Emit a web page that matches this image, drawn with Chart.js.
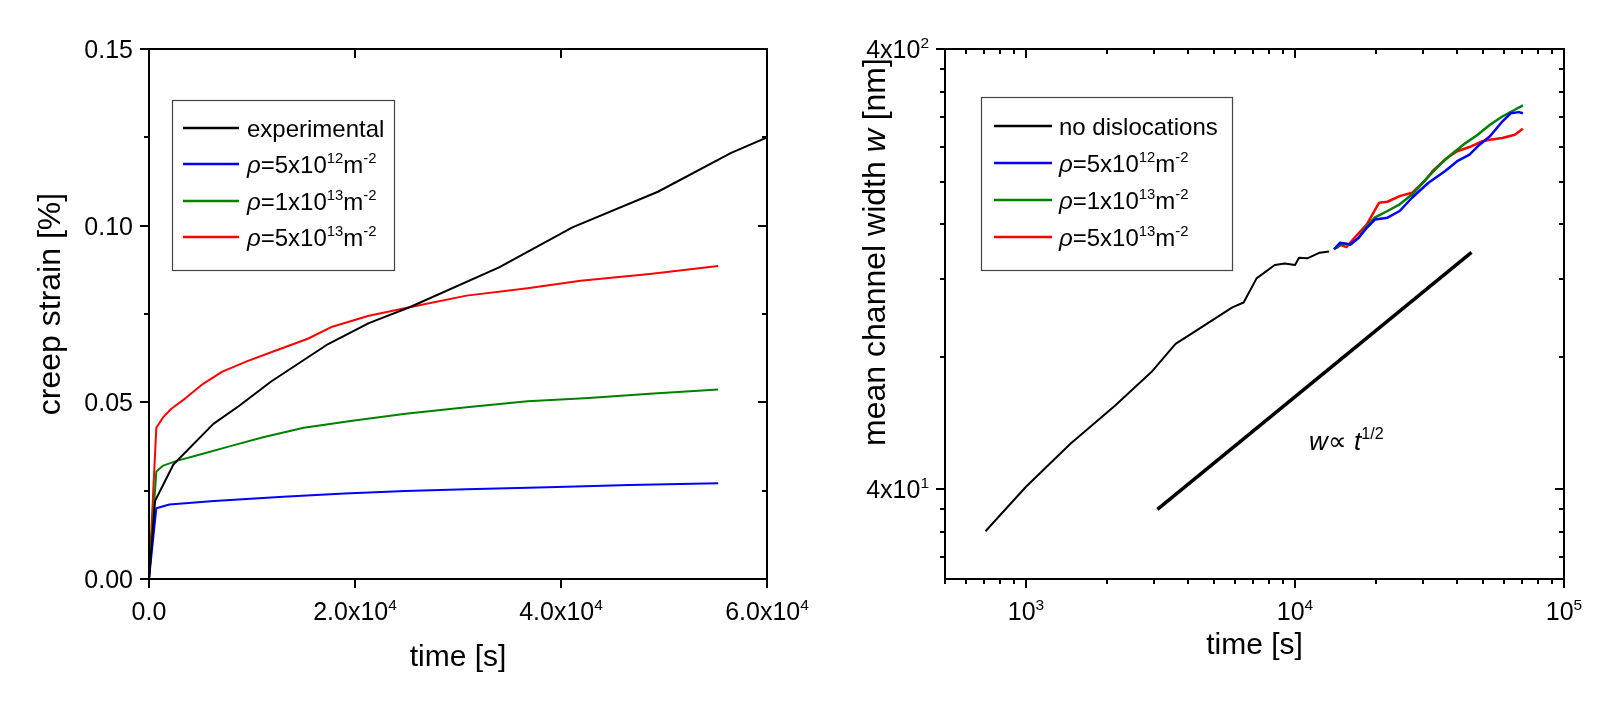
<!DOCTYPE html>
<html><head><meta charset="utf-8">
<script src="https://cdn.jsdelivr.net/npm/chart.js@4.4.1/dist/chart.umd.min.js"></script>
<style>
html,body{margin:0;padding:0;background:#fff;}
#wrap{position:relative;width:1619px;height:710px;overflow:hidden;background:#fff;}
canvas{position:absolute;top:0;}
#cL{left:0}
#cR{left:810px}
</style></head><body>
<div id="wrap"><canvas id="cL" width="810" height="710"></canvas><canvas id="cR" width="809" height="710"></canvas></div>
<script>
// ---- left panel: creep strain vs time ----
const expTime   = [0, 590, 2370, 6250, 8700, 11860, 17390, 21340, 25300, 33990, 41110, 49410, 56520, 60000];
const expStrain = [0, 0.0221, 0.0324, 0.0439, 0.0489, 0.0559, 0.0665, 0.0724, 0.0769, 0.0882, 0.0995, 0.1096, 0.1206, 0.125];
const rho5e12Time   = [0, 710, 1980, 6320, 13040, 18970, 24900, 30830, 38740, 46640, 55260];
const rho5e12Strain = [0, 0.0200, 0.0211, 0.0221, 0.0233, 0.0242, 0.0249, 0.0254, 0.0260, 0.0266, 0.0271];
const rho1e13Time   = [0, 710, 1380, 2770, 5140, 7900, 11070, 15020, 19760, 24900, 30830, 36760, 42690, 48620, 55260];
const rho1e13Strain = [0, 0.0304, 0.0321, 0.0335, 0.0354, 0.0376, 0.0401, 0.0428, 0.0448, 0.0468, 0.0486, 0.0503, 0.0512, 0.0524, 0.0536];
const rho5e13Time   = [0, 710, 1380, 2170, 3560, 5140, 7120, 9490, 12250, 15420, 17790, 21340, 25300, 30830, 36760, 41900, 48620, 55260];
const rho5e13Strain = [0, 0.0428, 0.0458, 0.0482, 0.0512, 0.055, 0.0587, 0.0616, 0.0646, 0.068, 0.0714, 0.0745, 0.0769, 0.0802, 0.0823, 0.0844, 0.0863, 0.0886];

const leftXTicks  = [0, 20000, 40000, 60000];
const leftXLabels = ['0.0', '2.0x10^{4}', '4.0x10^{4}', '6.0x10^{4}'];
const leftYTicks  = [0, 0.05, 0.10, 0.15];
const leftYLabels = ['0.00', '0.05', '0.10', '0.15'];
const leftYMinor  = [0.025, 0.075, 0.125];

// ---- right panel: mean channel width vs time (log-log) ----
const noDisTime  = [707, 1000, 1463, 2141, 2925, 3597, 4589, 5849, 6442, 7197, 8409, 9169, 10000, 10353, 11117, 12352, 13393];
const noDisWidth = [32.1, 40.5, 50.7, 61.9, 73.8, 85.5, 94.1, 103.5, 106.2, 120.5, 129.2, 130.3, 129.2, 134.2, 133.8, 137.8, 138.6];
const fitTime  = [3080, 45300];
const fitWidth = [36, 138];
const w5e12Time  = [13970, 14720, 15520, 16070, 17250, 18500, 19850, 22070, 24500, 27230, 31340, 36080, 40080, 44540, 47770, 53070, 58970, 63350, 67960, 70350];
const w5e12Width = [140.3, 145.2, 144.5, 143.9, 149.0, 157.0, 164.0, 165.5, 171.4, 183.7, 198.7, 211.0, 222.4, 230.2, 240.4, 253.5, 273.7, 285.8, 287.5, 285.8];
const w1e13Time  = [14220, 15000, 16070, 17250, 18500, 19850, 22070, 24500, 27230, 30260, 33620, 37380, 43030, 47770, 53070, 58970, 65610, 70350];
const w1e13Width = [141.0, 144.5, 143.9, 149.0, 158.4, 165.8, 171.4, 177.5, 186.8, 200.3, 214.8, 228.2, 244.5, 255.3, 269.1, 281.0, 291.1, 297.8];
const w5e13Time  = [13970, 14720, 15520, 16650, 18500, 20550, 22070, 24500, 27230, 30260, 32440, 36080, 40080, 44540, 49520, 53070, 58970, 65610, 70350];
const w5e13Width = [140.3, 143.6, 141.9, 149.0, 159.9, 179.0, 179.9, 185.3, 188.5, 200.3, 211.0, 224.3, 234.3, 239.5, 246.8, 248.9, 251.0, 255.3, 263.5];

const rightXTicks  = [1000, 10000, 100000];
const rightXLabels = ['10^{3}', '10^{4}', '10^{5}'];
const rightXMinor  = [500, 600, 700, 800, 900, 2000, 3000, 4000, 5000, 6000, 7000, 8000, 9000,
                      20000, 30000, 40000, 50000, 60000, 70000, 80000, 90000];
const rightYTicks  = [40, 400];
const rightYLabels = ['4x10^{1}', '4x10^{2}'];
const rightYMinor  = [28, 32, 36, 80, 120, 160, 200, 240, 280, 320, 360];

const pts = (xs, ys) => xs.map((x, i) => ({x, y: ys[i]}));
const FONT = '"Liberation Sans", Arial, Helvetica, sans-serif';

// tiny rich text: ^{..} superscript, *{..} italic
function parseRich(s){
  const out=[]; let i=0, buf='';
  while(i<s.length){
    const c=s[i];
    if((c==='^'||c==='*') && s[i+1]==='{'){
      if(buf){out.push({t:buf}); buf='';}
      const j=s.indexOf('}',i+2);
      out.push({t:s.slice(i+2,j), sup:c==='^', it:c==='*'});
      i=j+1;
    } else {buf+=c; i++;}
  }
  if(buf) out.push({t:buf});
  return out;
}
const fontFor=(p,size)=>(p.it?'italic ':'')+(p.sup?size*0.62:size)+'px '+FONT;
function drawRich(ctx,s,x,y,size,align){
  const parts=parseRich(s); let w=0;
  parts.forEach(p=>{ctx.font=fontFor(p,size); w+=ctx.measureText(p.t).width;});
  let cx = align==='right' ? x-w : align==='center' ? x-w/2 : x;
  ctx.textAlign='left'; ctx.textBaseline='alphabetic'; ctx.fillStyle='#000';
  parts.forEach(p=>{ctx.font=fontFor(p,size); ctx.fillText(p.t,cx,p.sup?y-size*0.42:y); cx+=ctx.measureText(p.t).width;});
}

const panelPlugin = {
  id:'panel',
  afterDraw(chart, args, o){
    const ctx=chart.ctx, a=chart.chartArea, xs=chart.scales.x, ys=chart.scales.y;
    ctx.save();
    ctx.strokeStyle='#000'; ctx.lineWidth=2; ctx.lineCap='butt';
    ctx.strokeRect(a.left, a.top, a.right-a.left, a.bottom-a.top);
    const seg=(x0,y0,x1,y1)=>{ctx.beginPath();ctx.moveTo(x0,y0);ctx.lineTo(x1,y1);ctx.stroke();};
    const xt=(v,len)=>{const p=Math.round(xs.getPixelForValue(v)); seg(p,a.bottom,p,a.bottom+len); seg(p,a.top,p,a.top+len);};
    const yt=(v,len)=>{const p=Math.round(ys.getPixelForValue(v)); seg(a.left-len,p,a.left,p); seg(a.right-len,p,a.right,p);};
    o.xMajor.forEach(v=>xt(v,9)); (o.xMinor||[]).forEach(v=>xt(v,5));
    o.yMajor.forEach(v=>yt(v,9)); (o.yMinor||[]).forEach(v=>yt(v,5));
    // tick labels
    o.xMajor.forEach((v,i)=>drawRich(ctx,o.xLabels[i],xs.getPixelForValue(v),a.bottom+o.xLabelDy,o.tickSize,'center'));
    o.yMajor.forEach((v,i)=>drawRich(ctx,o.yLabels[i],a.left-16,ys.getPixelForValue(v)+o.tickSize*0.36,o.tickSize,'right'));
    // axis titles
    drawRich(ctx,o.xTitle,(a.left+a.right)/2,o.xTitleY,o.titleSize,'center');
    ctx.save(); ctx.translate(o.yTitleX,o.yTitleY); ctx.rotate(-Math.PI/2);
    drawRich(ctx,o.yTitle,0,o.yTitleSize*0.36,o.yTitleSize,'center'); ctx.restore();
    // legend
    const b=o.legendBox;
    ctx.fillStyle='#fff'; ctx.fillRect(b[0],b[1],b[2]-b[0],b[3]-b[1]);
    ctx.strokeStyle='#444'; ctx.lineWidth=1.2; ctx.strokeRect(b[0]+0.5,b[1]+0.5,b[2]-b[0],b[3]-b[1]);
    let row=0;
    chart.data.datasets.forEach(ds=>{
      if(!ds.legendText) return;
      const y=o.legendRows[row++];
      ctx.strokeStyle=ds.borderColor; ctx.lineWidth=2.5;
      seg(o.legendLine[0],y,o.legendLine[1],y);
      drawRich(ctx,ds.legendText,o.legendTextX,y+o.legendSize*0.36,o.legendSize,'left');
    });
    if(o.note) drawRich(ctx,o.note.text,o.note.x,o.note.y,o.note.size,'left');
    ctx.restore();
  }
};

const common = {
  responsive:false, animation:false, devicePixelRatio:1,
  elements:{point:{radius:0}, line:{tension:0, borderJoinStyle:'round'}},
};

new Chart(document.getElementById('cL'), {
  type:'line',
  data:{datasets:[
    {label:'experimental', legendText:'experimental', data:pts(expTime,expStrain), borderColor:'#000', borderWidth:2},
    {label:'rho 5e12', legendText:'*{ρ}=5x10^{12}m^{-2}', data:pts(rho5e12Time,rho5e12Strain), borderColor:'#0000ff', borderWidth:2},
    {label:'rho 1e13', legendText:'*{ρ}=1x10^{13}m^{-2}', data:pts(rho1e13Time,rho1e13Strain), borderColor:'#008000', borderWidth:2},
    {label:'rho 5e13', legendText:'*{ρ}=5x10^{13}m^{-2}', data:pts(rho5e13Time,rho5e13Strain), borderColor:'#ff0000', borderWidth:2}
  ]},
  options:{...common,
    layout:{padding:{left:149,right:43,top:49,bottom:131}},
    scales:{x:{type:'linear',min:0,max:60000,display:false}, y:{type:'linear',min:0,max:0.15,display:false}},
    plugins:{legend:{display:false}, tooltip:{enabled:false},
      panel:{xMajor:leftXTicks,xLabels:leftXLabels,xMinor:[],yMajor:leftYTicks,yLabels:leftYLabels,yMinor:leftYMinor,
        tickSize:25, xLabelDy:41, titleSize:30, xTitle:'time [s]', xTitleY:666,
        yTitle:'creep strain [%]', yTitleSize:32, yTitleX:48, yTitleY:304,
        legendBox:[172,100,394,270], legendRows:[128,164,201,237], legendLine:[183,239], legendTextX:247, legendSize:24}}
  },
  plugins:[panelPlugin]
});

new Chart(document.getElementById('cR'), {
  type:'line',
  data:{datasets:[
    {label:'no dislocations', legendText:'no dislocations', data:pts(noDisTime,noDisWidth), borderColor:'#000', borderWidth:2},
    {label:'rho 5e12', legendText:'*{ρ}=5x10^{12}m^{-2}', data:pts(w5e12Time,w5e12Width), borderColor:'#0000ff', borderWidth:2.5},
    {label:'rho 1e13', legendText:'*{ρ}=1x10^{13}m^{-2}', data:pts(w1e13Time,w1e13Width), borderColor:'#008000', borderWidth:2.5},
    {label:'rho 5e13', legendText:'*{ρ}=5x10^{13}m^{-2}', data:pts(w5e13Time,w5e13Width), borderColor:'#ff0000', borderWidth:2.5},
    {label:'w ~ t^1/2', data:pts(fitTime,fitWidth), borderColor:'#000', borderWidth:3.5}
  ]},
  options:{...common,
    layout:{padding:{left:135,right:55,top:49,bottom:131}},
    scales:{x:{type:'logarithmic',min:500,max:100000,display:false}, y:{type:'logarithmic',min:25,max:400,display:false}},
    plugins:{legend:{display:false}, tooltip:{enabled:false},
      panel:{xMajor:rightXTicks,xLabels:rightXLabels,xMinor:rightXMinor,yMajor:rightYTicks,yLabels:rightYLabels,yMinor:rightYMinor,
        tickSize:25, xLabelDy:41, titleSize:30, xTitle:'time [s]', xTitleY:654,
        yTitle:'mean channel width *{w} [nm]', yTitleSize:32, yTitleX:63, yTitleY:252,
        legendBox:[171,97,422,270], legendRows:[126,163,200,237], legendLine:[184,242], legendTextX:249, legendSize:24,
        note:{text:'*{w}∝ *{t}^{1/2}', x:499, y:450, size:26}}}
  },
  plugins:[panelPlugin]
});
</script>
</body></html>
